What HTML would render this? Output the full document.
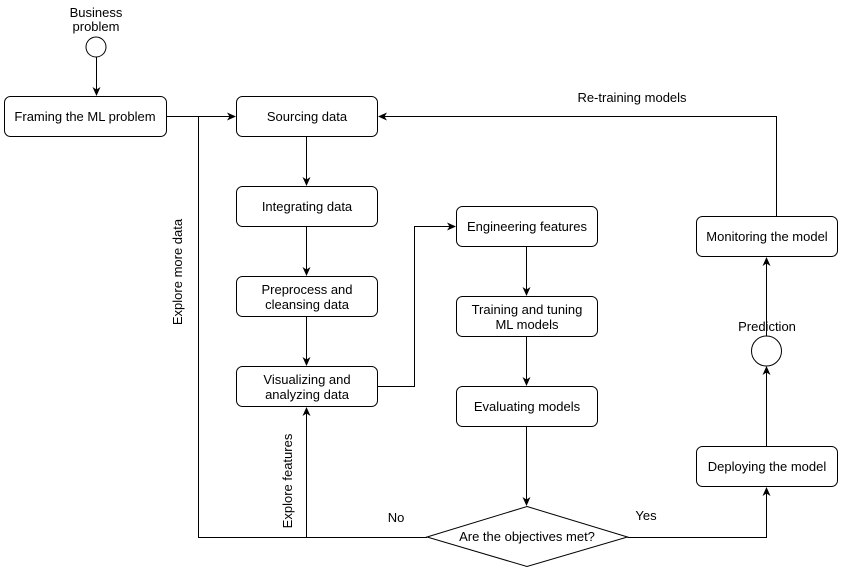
<!DOCTYPE html>
<html><head><style>body{margin:0;background:#fff}</style></head><body>
<svg width="847" height="573" xmlns="http://www.w3.org/2000/svg" font-family="Liberation Sans, Helvetica, sans-serif" font-size="13">
<defs><marker id="a" markerWidth="10" markerHeight="10" refX="8" refY="5" orient="auto" markerUnits="userSpaceOnUse"><path d="M0,1 L9,5 L0,9 L2.5,5 z" fill="#000"/></marker></defs>
<g fill="#fff" stroke="#000" stroke-width="1">
<circle cx="96" cy="47" r="10"/>
<rect x="4.5" y="96.5" width="162" height="40" rx="6"/>
<rect x="236.5" y="96.5" width="141" height="40" rx="6"/>
<rect x="236.5" y="186.5" width="141" height="40" rx="6"/>
<rect x="236.5" y="276.5" width="141" height="40" rx="6"/>
<rect x="236.5" y="366.5" width="141" height="40" rx="6"/>
<rect x="456.5" y="206.5" width="141" height="40" rx="6"/>
<rect x="456.5" y="296.5" width="141" height="40" rx="6"/>
<rect x="456.5" y="386.5" width="141" height="40" rx="6"/>
<rect x="696.5" y="216.5" width="141" height="40" rx="6"/>
<rect x="696.5" y="446.5" width="141" height="40" rx="6"/>
<circle cx="766.5" cy="351" r="15"/>
<polygon points="527,506.5 627.5,537 527,566.5 427,537"/>
</g>
<path d="M427 537.5H198.5V116.5" fill="none" stroke="#000"/>
<g fill="none" stroke="#000" stroke-width="1" marker-end="url(#a)">
<path d="M96.5 57V95"/>
<path d="M166.5 116.5H235"/>
<path d="M306.5 137V185"/>
<path d="M306.5 227V275"/>
<path d="M306.5 317V365"/>
<path d="M377.5 386.5H414.5V226.5H455"/>
<path d="M526.5 247V295"/>
<path d="M526.5 337V385"/>
<path d="M526.5 427V505"/>
<path d="M306.5 537.5V408"/>
<path d="M627.5 537.5H766.5V488"/>
<path d="M766.5 446V367"/>
<path d="M766.5 336V258"/>
<path d="M776.5 216V116.5H379"/>
</g>
<g text-anchor="middle" fill="#000">
<text x="96" y="17">Business</text><text x="96" y="31">problem</text>
<text x="85" y="121">Framing the ML problem</text>
<text x="307" y="121">Sourcing data</text>
<text x="307" y="211">Integrating data</text>
<text x="307" y="294">Preprocess and</text><text x="307" y="309">cleansing data</text>
<text x="307" y="384">Visualizing and</text><text x="307" y="399">analyzing data</text>
<text x="527" y="231">Engineering features</text>
<text x="527" y="314">Training and tuning</text><text x="527" y="329">ML models</text>
<text x="527" y="411">Evaluating models</text>
<text x="527" y="541">Are the objectives met?</text>
<text x="767" y="241">Monitoring the model</text>
<text x="767" y="471">Deploying the model</text>
<text x="767" y="331">Prediction</text>
<text x="632" y="102">Re-training models</text>
<text x="396" y="522">No</text>
<text x="646" y="520">Yes</text>
<text transform="translate(182,272) rotate(-90)">Explore more data</text>
<text transform="translate(292,481) rotate(-90)">Explore features</text>
</g>
</svg>
</body></html>
